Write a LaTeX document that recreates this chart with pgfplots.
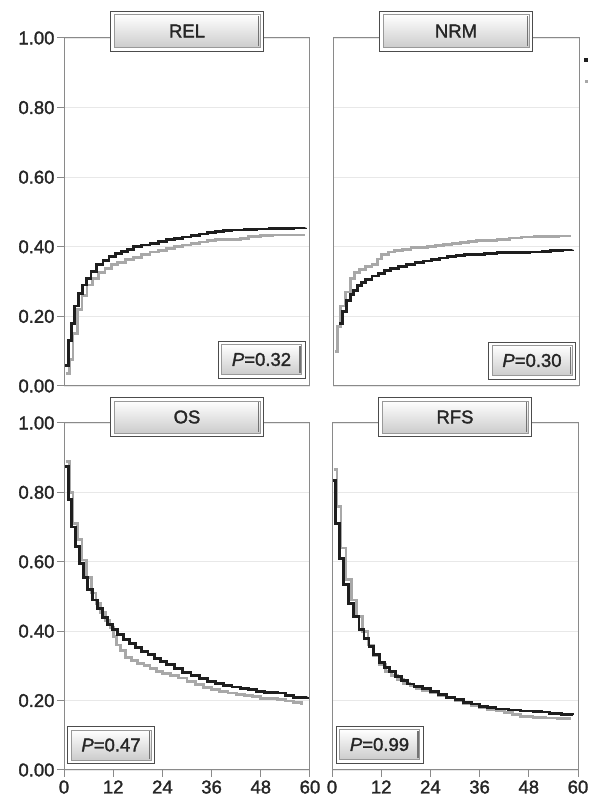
\documentclass[border=0pt]{standalone}
\usepackage{pgfplots}
\pgfplotsset{compat=1.18}
\usepackage{fontspec}
\setmainfont{Liberation Sans}[FakeBold=1.6]
\definecolor{dk}{HTML}{1E1E1E}
\definecolor{lg}{HTML}{A8A8A8}
\definecolor{fr}{HTML}{8A8A8A}
\pgfplotsset{
 km/.style={scale only axis, width=246pt, height=348pt, xmin=0, xmax=60, ymin=0, ymax=1,
  axis line style={fr, line width=1pt}, ytick={0,0.2,0.4,0.6,0.8,1},
  ymajorgrids, grid style={black!9, line width=0.7pt},
  tick style={fr, line width=1pt}, tick align=outside, major tick length=7pt,
  xtick pos=bottom, ytick pos=left,
  /pgf/number format/assume math mode=true,
  tick label style={font=\fontsize{18.5}{20}\selectfont, text=black!85},
  yticklabel style={/pgf/number format/fixed, /pgf/number format/fixed zerofill, /pgf/number format/precision=2, xshift=1pt},
  clip=false},
 blk/.style={const plot, dk, line width=2.8pt},
 gry/.style={const plot, lg, line width=2.8pt},
}
\newcommand\btn[4]{% position, width, height, text
 \node[draw=black!70, line width=0.9pt, fill=white, minimum width=#2, minimum height=#3, inner sep=0pt] (b) at #1 {};
 \shade[top color=white, bottom color=black!20] ([shift={(4pt,4pt)}]b.south west) rectangle ([shift={(-4pt,-4pt)}]b.north east);
 \draw[black!40, line width=0.7pt] ([shift={(4pt,4pt)}]b.south west) rectangle ([shift={(-4pt,-4pt)}]b.north east);
 \draw[black!55, line width=1.6pt] ([shift={(-5.5pt,5pt)}]b.south east) -- ([shift={(-5.5pt,-5pt)}]b.north east);
 \node[text=black!85, font=\fontsize{18.5}{20}\selectfont] at (b) {#4};
}
\begin{document}
\begin{tikzpicture}[x=1pt,y=1pt]
\useasboundingbox (0,0) rectangle (602,811);
% REL
\begin{axis}[km, name=tl, at={(64pt,425pt)}, anchor=south west, xtick=\empty]
\addplot[gry] coordinates {(0.6,0.035) (1.4,0.075) (2.2,0.15) (3.2,0.22) (4.4,0.26) (5.6,0.29) (7,0.31) (8.5,0.325) (10,0.338) (11.5,0.348) (13,0.356) (15,0.364) (17,0.37) (19,0.378) (21,0.385) (23,0.39) (25,0.395) (27,0.4) (29,0.405) (31,0.41) (33,0.414) (35,0.417) (37,0.42) (40,0.421) (43,0.424) (45,0.43) (48,0.432) (51,0.434) (54,0.434) (58.4,0.433)};
\addplot[blk] coordinates {(0.25,0.06) (1.0,0.13) (1.8,0.18) (2.6,0.23) (3.5,0.265) (4.5,0.29) (5.5,0.31) (6.6,0.33) (8,0.35) (9.5,0.36) (11,0.372) (12.5,0.38) (14,0.387) (15.5,0.393) (17,0.40) (19,0.405) (21,0.41) (23,0.415) (25,0.42) (27,0.424) (29,0.428) (31,0.432) (33,0.437) (35,0.441) (37,0.445) (39,0.447) (41,0.448) (44,0.45) (47,0.451) (50,0.452) (53,0.453) (56,0.454) (59,0.455)};
\end{axis}
% NRM
\begin{axis}[km, name=tr, at={(333pt,425pt)}, anchor=south west, xtick=\empty, yticklabels={}, ytick style={draw=none},
  legend style={at={(1.01,0.949)}, anchor=north west, draw=none, fill=none, row sep=19pt, nodes={inner sep=0pt}}]
\addplot[gry, forget plot] coordinates {(0.5,0.10) (1.1,0.17) (1.9,0.23) (3,0.27) (4.3,0.31) (5.3,0.325) (6.5,0.335) (8,0.343) (9.5,0.35) (10.8,0.365) (11.8,0.377) (13.5,0.385) (15,0.39) (17,0.393) (19,0.397) (21,0.399) (23,0.40) (25,0.403) (27,0.407) (29,0.41) (31,0.413) (33,0.415) (35,0.417) (37,0.419) (40,0.422) (43,0.425) (46,0.428) (49,0.429) (52,0.43) (55,0.431) (57.7,0.43)};
\addplot[blk, forget plot] coordinates {(1.5,0.18) (2.4,0.215) (3.3,0.245) (4.2,0.262) (5,0.275) (6,0.288) (7,0.298) (8,0.306) (9.5,0.316) (11,0.324) (12.5,0.331) (14,0.337) (16,0.343) (18,0.349) (20,0.354) (22,0.359) (24,0.364) (26,0.368) (28,0.372) (30,0.375) (32,0.377) (34,0.379) (37,0.381) (40,0.383) (44,0.384) (48,0.385) (51,0.386) (53,0.389) (56,0.391) (58.5,0.392)};
\addlegendimage{only marks, mark=square*, mark size=1.4pt, dk, mark options={draw=none, fill=dk}}
\addlegendentry{}
\addlegendimage{only marks, mark=square*, mark size=1.2pt, lg, mark options={draw=none, fill=lg}}
\addlegendentry{}
\end{axis}
% OS
\begin{axis}[km, name=bl, at={(64pt,41pt)}, anchor=south west, height=347pt, xtick={0,12,24,36,48,60}]
\addplot[gry] coordinates {(0.6,0.89) (1.4,0.80) (2.2,0.71) (3.3,0.665) (4.4,0.605) (5.5,0.555) (6.7,0.51) (7.8,0.48) (9,0.455) (10.2,0.43) (11.2,0.41) (12,0.385) (12.8,0.36) (13.8,0.345) (15,0.325) (16.5,0.315) (18,0.308) (19.5,0.3) (21,0.292) (22.5,0.283) (24,0.277) (26,0.272) (28,0.265) (30,0.255) (32,0.246) (34,0.238) (36,0.232) (38,0.226) (40,0.222) (42,0.218) (44,0.215) (46,0.211) (48,0.207) (50,0.205) (52,0.203) (54,0.199) (56,0.195) (58,0.188)};
\addplot[blk] coordinates {(0.2,0.875) (1.0,0.78) (1.8,0.70) (2.8,0.645) (3.7,0.595) (4.7,0.555) (5.8,0.52) (7,0.49) (8.2,0.465) (9.4,0.44) (10.6,0.42) (11.8,0.405) (13,0.39) (14.5,0.377) (16,0.364) (17.5,0.352) (19,0.342) (20.5,0.332) (22,0.322) (23.5,0.313) (25,0.303) (27,0.293) (29,0.282) (31,0.273) (33,0.263) (35,0.256) (37,0.249) (39,0.243) (41,0.239) (43,0.236) (45,0.231) (47,0.227) (49,0.224) (52,0.222) (54,0.214) (56,0.21) (59.3,0.211)};
\end{axis}
% RFS
\begin{axis}[km, name=br, at={(332pt,41pt)}, anchor=south west, height=347pt, xtick={0,12,24,36,48,60}, yticklabels={}, ytick style={draw=none}]
\addplot[gry] coordinates {(0.4,0.865) (1.2,0.76) (2.2,0.64) (3.4,0.55) (4.7,0.49) (6,0.443) (7.4,0.398) (8.8,0.36) (10.2,0.33) (11.6,0.305) (13,0.285) (14.5,0.272) (16,0.26) (17.5,0.25) (19,0.242) (20.5,0.234) (22,0.228) (24,0.222) (26,0.215) (28,0.208) (30,0.2) (32,0.192) (34,0.186) (36,0.179) (38,0.174) (40,0.17) (42,0.166) (44,0.16) (46,0.154) (49,0.152) (52,0.15) (55,0.149) (58.4,0.149)};
\addplot[blk] coordinates {(0.2,0.835) (0.8,0.71) (1.8,0.61) (2.9,0.535) (4.1,0.48) (5.3,0.443) (6.6,0.405) (7.8,0.38) (9,0.355) (10.2,0.332) (11.5,0.31) (12.8,0.295) (14,0.283) (15.5,0.27) (17,0.258) (18.5,0.248) (20,0.241) (22,0.235) (24,0.227) (26,0.218) (28,0.21) (30,0.203) (32,0.195) (34,0.19) (36,0.184) (38,0.179) (40,0.176) (43,0.173) (46,0.17) (49,0.168) (51,0.167) (53,0.163) (56,0.16) (58.8,0.158)};
\end{axis}
% title buttons
\btn{([yshift=7pt]tl.north)}{153pt}{40pt}{REL}
\btn{([yshift=7pt]tr.north)}{153pt}{40pt}{NRM}
\btn{([yshift=6pt]bl.north)}{153pt}{39pt}{OS}
\btn{([yshift=6pt]br.north)}{153pt}{39pt}{RFS}
% P-value buttons
\btn{([shift={(-48.5pt,26.5pt)}]tl.south east)}{87pt}{37pt}{\textit{P}=0.32}
\btn{([shift={(-47pt,25.5pt)}]tr.south east)}{87pt}{37pt}{\textit{P}=0.30}
\btn{([shift={(47pt,25pt)}]bl.south west)}{87pt}{37pt}{\textit{P}=0.47}
\btn{([shift={(47.5pt,25.5pt)}]br.south west)}{87pt}{37pt}{\textit{P}=0.99}
\end{tikzpicture}
\end{document}
